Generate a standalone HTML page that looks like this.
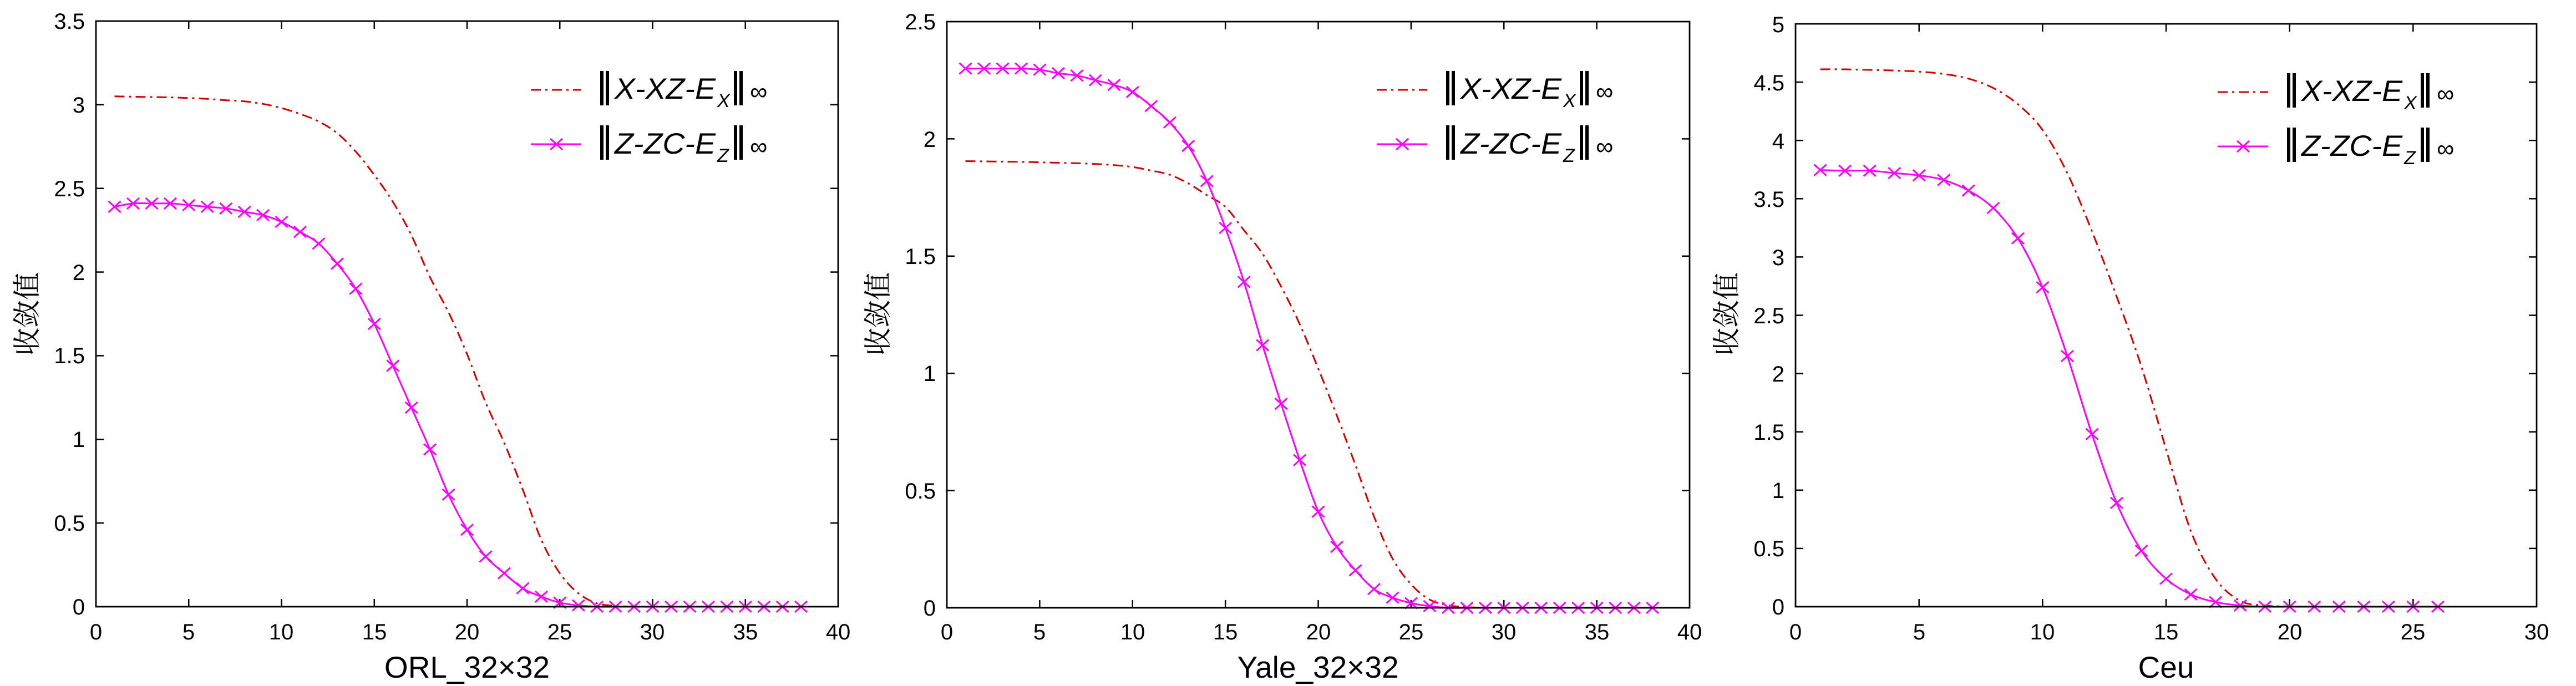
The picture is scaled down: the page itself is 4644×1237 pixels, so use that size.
<!DOCTYPE html>
<html><head><meta charset="utf-8"><style>
html,body{margin:0;padding:0;background:#fff;}
svg{display:block;}
text{font-family:"Liberation Sans",Arial,sans-serif;fill:#000;}
</style></head><body>
<svg id="s" width="4644" height="1237" viewBox="0 0 4644 1237" xmlns="http://www.w3.org/2000/svg">
<rect width="4644" height="1237" fill="#fff"/>
<g id="plots"></g>
<!-- axis labels -->
<text x="842" y="1222" font-size="55" text-anchor="middle">ORL_32×32</text>
<text x="2376" y="1222" font-size="55" text-anchor="middle">Yale_32×32</text>
<text x="3905" y="1222" font-size="55" text-anchor="middle">Ceu</text>
<text transform="translate(66,566) rotate(-90)" font-size="50" text-anchor="middle" style="font-family:'Noto Serif CJK SC',serif">收敛值</text>
<text transform="translate(1600,566) rotate(-90)" font-size="50" text-anchor="middle" style="font-family:'Noto Serif CJK SC',serif">收敛值</text>
<text transform="translate(3130,566) rotate(-90)" font-size="50" text-anchor="middle" style="font-family:'Noto Serif CJK SC',serif">收敛值</text>
<!-- tick labels panel 1 -->
<g font-size="40" text-anchor="end">
<text x="153" y="1108">0</text><text x="153" y="957">0.5</text><text x="153" y="806">1</text><text x="153" y="655">1.5</text><text x="153" y="505">2</text><text x="153" y="354">2.5</text><text x="153" y="203">3</text><text x="153" y="52">3.5</text>
<text x="1687" y="1110">0</text><text x="1687" y="899">0.5</text><text x="1687" y="687">1</text><text x="1687" y="476">1.5</text><text x="1687" y="265">2</text><text x="1687" y="53">2.5</text>
<text x="3217" y="1108">0</text><text x="3217" y="1003">0.5</text><text x="3217" y="898">1</text><text x="3217" y="793">1.5</text><text x="3217" y="688">2</text><text x="3217" y="583">2.5</text><text x="3217" y="478">3</text><text x="3217" y="373">3.5</text><text x="3217" y="268">4</text><text x="3217" y="163">4.5</text><text x="3217" y="58">5</text>
</g>
<g font-size="40" text-anchor="middle">
<text x="173" y="1153">0</text><text x="340" y="1153">5</text><text x="507" y="1153">10</text><text x="675" y="1153">15</text><text x="842" y="1153">20</text><text x="1009" y="1153">25</text><text x="1176" y="1153">30</text><text x="1344" y="1153">35</text><text x="1511" y="1153">40</text>
<text x="1707" y="1153">0</text><text x="1874" y="1153">5</text><text x="2042" y="1153">10</text><text x="2209" y="1153">15</text><text x="2377" y="1153">20</text><text x="2544" y="1153">25</text><text x="2711" y="1153">30</text><text x="2879" y="1153">35</text><text x="3046" y="1153">40</text>
<text x="3237" y="1153">0</text><text x="3460" y="1153">5</text><text x="3682" y="1153">10</text><text x="3905" y="1153">15</text><text x="4128" y="1153">20</text><text x="4350" y="1153">25</text><text x="4573" y="1153">30</text>
</g>
<!-- legends -->
<g id="leg"></g>
<g font-size="53" font-style="italic">
<text x="1108" y="178" textLength="182" lengthAdjust="spacingAndGlyphs">X-XZ-E</text>
<text x="1293" y="193" font-size="34">X</text>
<text x="1108" y="277" textLength="182" lengthAdjust="spacingAndGlyphs">Z-ZC-E</text>
<text x="1293" y="292" font-size="34">Z</text>
<text x="2633" y="178" textLength="182" lengthAdjust="spacingAndGlyphs">X-XZ-E</text>
<text x="2818" y="193" font-size="34">X</text>
<text x="2633" y="277" textLength="182" lengthAdjust="spacingAndGlyphs">Z-ZC-E</text>
<text x="2818" y="292" font-size="34">Z</text>
<text x="4149" y="182" textLength="182" lengthAdjust="spacingAndGlyphs">X-XZ-E</text>
<text x="4334" y="197" font-size="34">X</text>
<text x="4149" y="281" textLength="182" lengthAdjust="spacingAndGlyphs">Z-ZC-E</text>
<text x="4334" y="296" font-size="34">Z</text>
</g>
<g font-size="44">
<text x="1352" y="180">∞</text><text x="1352" y="279">∞</text>
<text x="2877" y="180">∞</text><text x="2877" y="279">∞</text>
<text x="4393" y="184">∞</text><text x="4393" y="283">∞</text>
</g>
</svg>
<script>
var NS="http://www.w3.org/2000/svg";
var G=document.getElementById('plots');
function el(t,a,p){var e=document.createElementNS(NS,t);for(var k in a)e.setAttribute(k,a[k]);(p||G).appendChild(e);return e;}
function zeros(a,n){while(a.length<n)a.push(0);return a;}
var panels=[
 {L:173,R:1511,T:38,B:1094,xm:40,ym:3.5,xs:5,ys:0.5,
  m:zeros([2.39,2.41,2.41,2.41,2.40,2.39,2.38,2.36,2.34,2.30,2.24,2.17,2.05,1.90,1.69,1.44,1.19,0.94,0.67,0.46,0.30,0.20,0.11,0.06,0.024,0.008],38),
  r:zeros([3.05,3.048,3.046,3.044,3.04,3.035,3.027,3.02,3.005,2.98,2.945,2.90,2.83,2.72,2.58,2.42,2.22,1.97,1.76,1.51,1.22,0.98,0.70,0.40,0.20,0.08,0.02,0.005],38)},
 {L:1707,R:3046,T:39,B:1096,xm:40,ym:2.5,xs:5,ys:0.5,
  m:zeros([2.30,2.30,2.30,2.30,2.295,2.28,2.27,2.25,2.23,2.20,2.14,2.07,1.97,1.82,1.62,1.39,1.12,0.87,0.63,0.41,0.26,0.16,0.08,0.043,0.02,0.007],38),
  r:zeros([1.905,1.904,1.903,1.902,1.90,1.898,1.896,1.893,1.888,1.88,1.865,1.847,1.81,1.76,1.71,1.61,1.51,1.37,1.21,1.02,0.82,0.61,0.39,0.21,0.10,0.035,0.011,0.003],38)},
 {L:3237,R:4573,T:43,B:1094,xm:30,ym:5,xs:5,ys:0.5,
  m:zeros([3.746,3.74,3.74,3.72,3.70,3.66,3.57,3.42,3.16,2.74,2.15,1.48,0.89,0.48,0.24,0.105,0.04,0.01],26),
  r:zeros([4.61,4.61,4.605,4.60,4.59,4.57,4.53,4.45,4.31,4.09,3.72,3.22,2.66,2.06,1.35,0.65,0.24,0.05,0.01,0.002],26)}
];
var legS=[957,2482,3998],legY=[162,162,166];
function spline(pts){var d="M"+pts[0][0]+","+pts[0][1];for(var i=0;i<pts.length-1;i++){var p0=pts[Math.max(0,i-1)],p1=pts[i],p2=pts[i+1],p3=pts[Math.min(pts.length-1,i+2)];
 var c1x=p1[0]+(p2[0]-p0[0])/6,c1y=p1[1]+(p2[1]-p0[1])/6,c2x=p2[0]-(p3[0]-p1[0])/6,c2y=p2[1]-(p3[1]-p1[1])/6;
 d+=" C"+c1x.toFixed(1)+","+c1y.toFixed(1)+" "+c2x.toFixed(1)+","+c2y.toFixed(1)+" "+p2[0].toFixed(1)+","+p2[1].toFixed(1);}return d;}
function cross(x,y,g){el('path',{d:"M"+(x-11)+","+(y-10)+"L"+(x+11)+","+(y+10)+"M"+(x-11)+","+(y+10)+"L"+(x+11)+","+(y-10),stroke:"#ff00ff","stroke-width":3,fill:"none"},g);}
panels.forEach(function(P,pi){
 var fx=function(v){return P.L+(P.R-P.L)*v/P.xm},fy=function(v){return P.B-(P.B-P.T)*v/P.ym};
 var g=el('g',{});
 // ticks
 for(var v=P.xs;v<P.xm;v+=P.xs){var x=fx(v);el('line',{x1:x,x2:x,y1:P.B,y2:P.B-14,stroke:"#000","stroke-width":2.5},g);el('line',{x1:x,x2:x,y1:P.T,y2:P.T+14,stroke:"#000","stroke-width":2.5},g);}
 for(var v=P.ys;v<P.ym-1e-6;v+=P.ys){var y=fy(v);el('line',{x1:P.L,x2:P.L+14,y1:y,y2:y,stroke:"#000","stroke-width":2.5},g);el('line',{x1:P.R,x2:P.R-14,y1:y,y2:y,stroke:"#000","stroke-width":2.5},g);}
 var rp=P.r.map(function(v,i){return [fx(i+1),fy(v)]});
 el('path',{d:spline(rp),stroke:"#d40000",fill:"none","stroke-width":3,"stroke-dasharray":"18 8 4 8"},g);
 var mp=P.m.map(function(v,i){return [fx(i+1),fy(v)]});
 el('path',{d:spline(mp),stroke:"#ff00ff",fill:"none","stroke-width":3},g);
 mp.forEach(function(p){cross(p[0],p[1],g)});
 el('rect',{x:P.L,y:P.T,width:P.R-P.L,height:P.B-P.T,fill:"none",stroke:"#000","stroke-width":2.8},g);
 // legend
 var S=legS[pi],Y=legY[pi];
 el('line',{x1:S,x2:S+91,y1:Y,y2:Y,stroke:"#d40000","stroke-width":3,"stroke-dasharray":"18 8 4 8"},g);
 el('line',{x1:S,x2:S+91,y1:Y+98,y2:Y+98,stroke:"#ff00ff","stroke-width":3},g);
 cross(S+46,Y+98,g);
 [Y,Y+98].forEach(function(yy){
  [S+125,S+135,S+366,S+376].forEach(function(bx){el('rect',{x:bx,y:yy-34,width:6,height:62,fill:"#000"},g);});
 });
});
</script>
</body></html>
